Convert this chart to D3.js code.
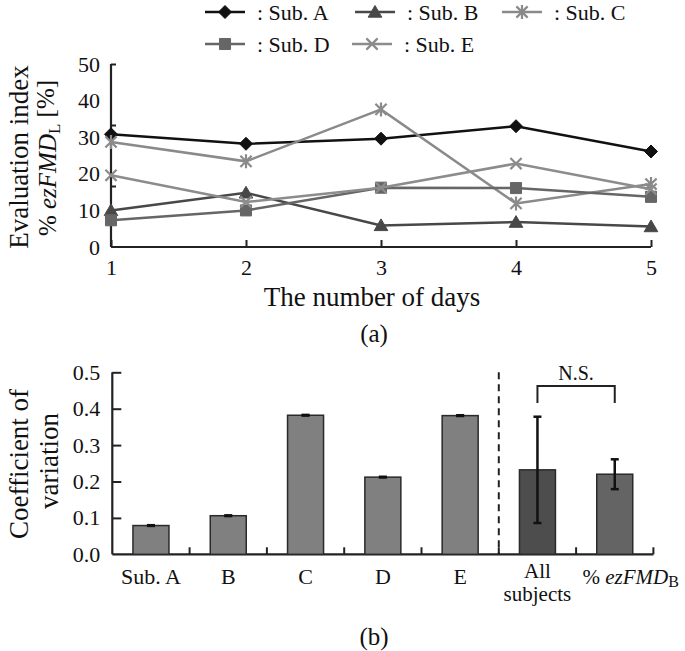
<!DOCTYPE html>
<html><head><meta charset="utf-8">
<script src="https://cdn.jsdelivr.net/npm/d3@7"></script>
<style>
html,body{margin:0;padding:0;background:#fff;}
svg{display:block;}
svg text{font-family:"Liberation Serif","Times New Roman",serif !important;}
</style></head>
<body>
<svg id="c" width="685" height="651"></svg>
<script>
// ---- Data: panel (a) ----
const days = [1, 2, 3, 4, 5];
const subA = [30.8, 28.2, 29.6, 33.0, 26.1];
const subB = [10.0, 14.8, 5.9, 6.8, 5.6];
const subC = [28.7, 23.4, 37.6, 11.9, 17.2];
const subD = [7.3, 10.0, 16.2, 16.1, 13.7];
const subE = [19.6, 12.3, 16.2, 22.8, 15.8];
const seriesNames = ["Sub. A", "Sub. B", "Sub. C", "Sub. D", "Sub. E"];
const yTicksA = [0, 10, 20, 30, 40, 50];
// ---- Data: panel (b) ----
const cvCategories = ["Sub. A", "B", "C", "D", "E", "All subjects", "% ezFMDB"];
const cvValues = [0.079, 0.106, 0.382, 0.212, 0.381, 0.232, 0.220];
const cvErrors = [0.001, 0.001, 0.001, 0.001, 0.001, 0.146, 0.041];
const yTicksB = [0, 0.1, 0.2, 0.3, 0.4, 0.5];

const svg = d3.select("#c");
const FONT = 22;

function markerPath(type, s) {
  switch (type) {
    case "diamond": return `M0,${-s}L${s},0L0,${s}L${-s},0Z`;
    case "triangle": return `M0,${-s}L${s*1.05},${s*0.8}L${-s*1.05},${s*0.8}Z`;
    case "square": { const h = s*0.85; return `M${-h},${-h}H${h}V${h}H${-h}Z`; }
    case "star": { const h = s*0.8; return `M${-h},${-h}L${h},${h}M${-h},${h}L${h},${-h}M0,${-s}V${s}`; }
    case "x": { const h = s*0.8; return `M${-h},${-h}L${h},${h}M${-h},${h}L${h},${-h}`; }
  }
}
const series = [
  {name: seriesNames[0], values: subA, color: "#111111", marker: "diamond", size: 6.5, filled: true},
  {name: seriesNames[1], values: subB, color: "#484848", marker: "triangle", size: 6.5, filled: true},
  {name: seriesNames[2], values: subC, color: "#8a8a8a", marker: "star", size: 7, filled: false},
  {name: seriesNames[3], values: subD, color: "#666666", marker: "square", size: 6.5, filled: true},
  {name: seriesNames[4], values: subE, color: "#8c8c8c", marker: "x", size: 7, filled: false}
];
function drawMarker(g, s, x, y) {
  const p = g.append("path").attr("d", markerPath(s.marker, s.size))
    .attr("transform", `translate(${x},${y})`);
  if (s.filled) p.attr("fill", s.color).attr("stroke", s.color).attr("stroke-width", 1);
  else p.attr("fill", "none").attr("stroke", s.color).attr("stroke-width", 2.2);
}

// ---------- Legend ----------
const legendPos = [[205, 12], [355, 12], [502, 12], [205, 44], [352, 44]];
series.forEach((s, i) => {
  const [lx, ly] = legendPos[i];
  const g = svg.append("g");
  g.append("line").attr("x1", lx).attr("x2", lx + 40).attr("y1", ly).attr("y2", ly)
    .attr("stroke", s.color).attr("stroke-width", 2.5);
  drawMarker(g, s, lx + 20, ly);
  g.append("text").attr("x", lx + 52).attr("y", ly).attr("dy", "0.35em")
    .attr("font-size", FONT).attr("fill", "#111").text(": " + s.name);
});

// ---------- Panel (a) ----------
const xA = d3.scaleLinear().domain([1, 5]).range([111, 651]);
const yA = d3.scaleLinear().domain([0, 50]).range([247, 64]);
const gA = svg.append("g");

const yAxisMarks = gA.append("g").attr("transform", `translate(${xA(1)},0)`)
  .call(d3.axisLeft(yA).tickValues([50/3, 100/3, 50]).tickSize(-5).tickFormat(""));
yAxisMarks.select(".domain").attr("d", `M0,${yA(0)}V${yA(50)}`);
const yAxisLabels = gA.append("g").attr("transform", `translate(${xA(1)},0)`)
  .call(d3.axisLeft(yA).tickValues(yTicksA).tickSize(0).tickPadding(11));
yAxisLabels.select(".domain").remove();
yAxisLabels.selectAll("text").attr("font-size", FONT).attr("fill", "#111");

const xAxisA = gA.append("g").attr("transform", `translate(0,${yA(0)})`)
  .call(d3.axisBottom(xA).tickValues(days).tickSize(-7).tickPadding(12).tickFormat(d3.format("d")));
xAxisA.select(".domain").attr("d", `M${xA(1)},0H${xA(5)}`);
xAxisA.selectAll("text").attr("font-size", FONT).attr("fill", "#111");
[yAxisMarks, xAxisA].forEach(a => {
  a.selectAll(".domain").attr("stroke", "#222").attr("stroke-width", 2.2);
  a.selectAll(".tick line").attr("stroke", "#222").attr("stroke-width", 2);
});

const line = d3.line().x((d, i) => xA(days[i])).y(d => yA(d));
series.forEach(s => {
  const g = gA.append("g");
  g.append("path").datum(s.values).attr("d", line).attr("fill", "none")
    .attr("stroke", s.color).attr("stroke-width", 2.5);
  s.values.forEach((v, i) => drawMarker(g, s, xA(days[i]), yA(v)));
});

gA.append("text").attr("transform", "translate(372,306)").attr("text-anchor", "middle")
  .attr("font-size", 27).attr("fill", "#111").text("The number of days");
gA.append("text").attr("transform", "translate(374,342)").attr("text-anchor", "middle")
  .attr("font-size", 25).attr("fill", "#111").text("(a)");
gA.append("text").attr("transform", "translate(19,157) rotate(-90)").attr("text-anchor", "middle")
  .attr("dy", "0.35em").attr("font-size", 27).attr("fill", "#111").text("Evaluation index");
const t2 = gA.append("text").attr("transform", "translate(47,158) rotate(-90)").attr("text-anchor", "middle")
  .attr("dy", "0.35em").attr("font-size", 25).attr("fill", "#111");
t2.append("tspan").text("% ");
t2.append("tspan").attr("font-style", "italic").text("ezFMD");
t2.append("tspan").attr("font-size", 17).attr("dy", "0.25em").text("L");
t2.append("tspan").attr("dy", "-0.25em").text(" [%]");

// ---------- Panel (b) ----------
const xB = d3.scaleBand().domain(cvCategories).range([112.3, 653.4]).padding(0);
const yB = d3.scaleLinear().domain([0, 0.5]).range([554.3, 372.3]);
const gB = svg.append("g");
const barW = 36;

const yAxisB = gB.append("g").attr("transform", `translate(${xB.range()[0]},0)`)
  .call(d3.axisLeft(yB).tickValues(yTicksB).tickSize(-9).tickPadding(12).tickFormat(d3.format(".1f")));
yAxisB.select(".domain").attr("d", `M0,${yB(0)}V${yB(0.5)}`);
yAxisB.selectAll(".tick").filter(d => d === 0).select("line").remove();
yAxisB.selectAll("text").attr("font-size", FONT).attr("fill", "#111");

const boundaries = cvCategories.slice(1).map(c => xB(c)).concat([xB.range()[1]]);
const xAxisB = gB.append("g").attr("transform", `translate(0,${yB(0)})`);
xAxisB.append("path").attr("class", "domain").attr("d", `M${xB.range()[0]},0H${xB.range()[1]}`).attr("fill", "none");
boundaries.forEach(bx => xAxisB.append("line").attr("class", "tk").attr("x1", bx).attr("x2", bx).attr("y1", 0).attr("y2", -7));
[yAxisB, xAxisB].forEach(a => {
  a.selectAll(".domain").attr("stroke", "#222").attr("stroke-width", 2.2);
  a.selectAll(".tick line, line.tk").attr("stroke", "#222").attr("stroke-width", 2);
});

gB.append("line").attr("x1", xB("All subjects")).attr("x2", xB("All subjects"))
  .attr("y1", yB(0.5)).attr("y2", yB(0)).attr("stroke", "#222").attr("stroke-width", 2)
  .attr("stroke-dasharray", "7,5");

const barColors = ["#808080", "#808080", "#808080", "#808080", "#808080", "#4d4d4d", "#646464"];
cvCategories.forEach((c, i) => {
  const cx = xB(c) + xB.bandwidth() / 2;
  gB.append("rect").attr("x", cx - barW / 2).attr("y", yB(cvValues[i]))
    .attr("width", barW).attr("height", yB(0) - yB(cvValues[i]))
    .attr("fill", barColors[i]).attr("stroke", "#2a2a2a").attr("stroke-width", 1.5);
  const hi = yB(cvValues[i] + cvErrors[i]), lo = yB(cvValues[i] - cvErrors[i]);
  gB.append("line").attr("x1", cx).attr("x2", cx).attr("y1", hi).attr("y2", lo)
    .attr("stroke", "#111").attr("stroke-width", 2.5);
  [hi, lo].forEach(yy => gB.append("line").attr("x1", cx - 4).attr("x2", cx + 4).attr("y1", yy).attr("y2", yy)
    .attr("stroke", "#111").attr("stroke-width", 2.5));
});

cvCategories.forEach((c, i) => {
  const cx = xB(c) + xB.bandwidth() / 2;
  if (c === "All subjects") {
    gB.append("text").attr("x", cx).attr("y", 578).attr("text-anchor", "middle")
      .attr("font-size", 21).attr("fill", "#111").text("All");
    gB.append("text").attr("x", cx).attr("y", 601).attr("text-anchor", "middle")
      .attr("font-size", 21).attr("fill", "#111").text("subjects");
  } else if (c === "% ezFMDB") {
    const t = gB.append("text").attr("x", cx + 16).attr("y", 584).attr("text-anchor", "middle")
      .attr("font-size", 21).attr("fill", "#111");
    t.append("tspan").text("% ");
    t.append("tspan").attr("font-style", "italic").text("ezFMD");
    t.append("tspan").attr("font-size", 16).attr("dy", "0.2em").text("B");
  } else {
    gB.append("text").attr("x", cx).attr("y", 584).attr("text-anchor", "middle")
      .attr("font-size", FONT).attr("fill", "#111").text(c);
  }
});

const c1 = xB("All subjects") + xB.bandwidth() / 2, c2 = xB("% ezFMDB") + xB.bandwidth() / 2;
gB.append("path").attr("d", `M${c1},403V386H${c2}V403`).attr("fill", "none")
  .attr("stroke", "#222").attr("stroke-width", 2);
gB.append("text").attr("x", (c1 + c2) / 2).attr("y", 380).attr("text-anchor", "middle")
  .attr("font-size", 20).attr("fill", "#111").text("N.S.");

gB.append("text").attr("transform", "translate(374,645)").attr("text-anchor", "middle")
  .attr("font-size", 25).attr("fill", "#111").text("(b)");
gB.append("text").attr("transform", "translate(19,464) rotate(-90)").attr("text-anchor", "middle")
  .attr("dy", "0.35em").attr("font-size", 27).attr("fill", "#111").text("Coefficient of");
gB.append("text").attr("transform", "translate(49,461) rotate(-90)").attr("text-anchor", "middle")
  .attr("dy", "0.35em").attr("font-size", 27).attr("fill", "#111").text("variation");
</script>
</body></html>
